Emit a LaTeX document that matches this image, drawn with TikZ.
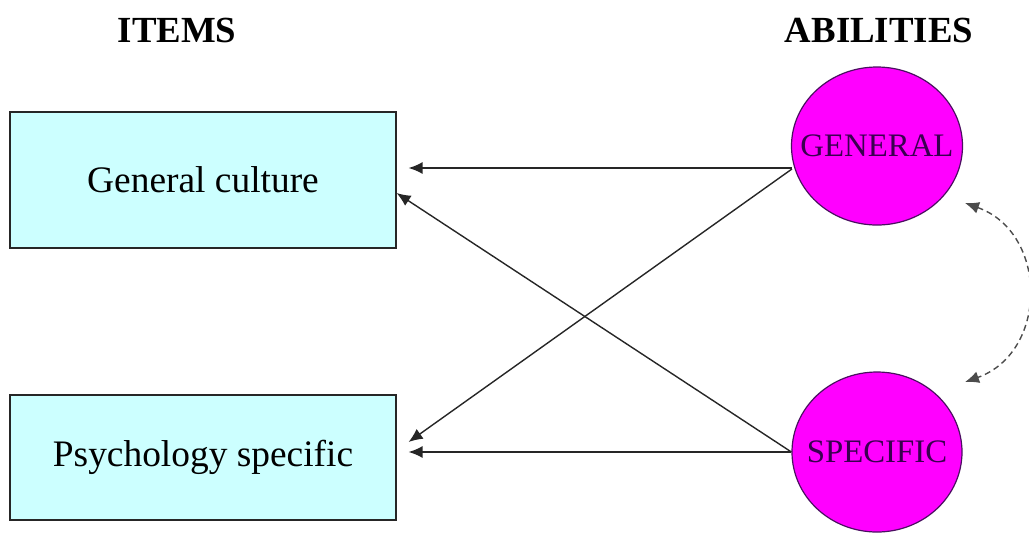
\documentclass[tikz,border=0pt]{standalone}
\usepackage{fontspec}
\setmainfont{Liberation Serif}
\usetikzlibrary{shapes.geometric,arrows.meta,calc}
\definecolor{itemfill}{HTML}{CCFFFF}
\definecolor{abilfill}{HTML}{FF00FF}
\definecolor{abiltext}{HTML}{3A0050}
\definecolor{abilline}{HTML}{4A1060}
\tikzset{
  x=0.5pt, y=-0.5pt,
  title/.style={font=\fontsize{18.4}{22}\selectfont\bfseries, text=black},
  itembox/.style={draw=black!85, line width=0.6pt, fill=itemfill,
    minimum width=193pt, font=\fontsize{18.7}{22}\selectfont, inner sep=0pt},
  ability/.style={ellipse, draw=abilline, line width=0.6pt, fill=abilfill,
    text=abiltext, font=\fontsize{16.4}{20}\selectfont,
    inner xsep=-14pt, inner ysep=-6pt},
  load/.style={line width=0.7pt, black!85, -{Latex[length=7pt,width=6pt]}},
  corr/.style={line width=0.7pt, black!70, dash pattern=on 3pt off 2pt,
    {Latex[length=7pt,width=6pt]}-{Latex[length=7pt,width=6pt]}}
}
\begin{document}
\begin{tikzpicture}
\useasboundingbox (0,0) rectangle (1029,532);

% column headings
\node[title] (hitems) at (177,30) {ITEMS};
\node[title] (habil) at (879,30) {ABILITIES};

% observed items
\node[itembox, minimum height=68pt] (gc) at (203,180) {General culture};
\node[itembox, minimum height=62.5pt] (ps) at (203,457.5) {Psychology specific};

% latent abilities
\node[ability, minimum width=85.5pt, minimum height=79pt] (gen) at (877,146) {GENERAL};
\node[ability, minimum width=85pt, minimum height=80pt] (spe) at (877,452) {SPECIFIC};

% loadings
\draw[load] ($(gen.west)+(1,22)$) -- ($(gc.east)+(12,-12)$);
\draw[load] ($(gen.west)+(1,23)$) -- ($(ps.east)+(12,-15.5)$);
\draw[load] (spe.west) -- ($(gc.east)+(0,13)$);
\draw[load] (spe.west) -- ($(ps.east)+(12,-5.5)$);

% correlation between abilities
\coordinate (ct) at ($(gen.center)+(88,57)$);
\coordinate (cb) at ($(spe.center)+(88,-70)$);
\draw[corr] (ct) .. controls ($(ct)+(83.5,29.7)$) and ($(cb)+(83.5,-29.7)$) .. (cb);
\end{tikzpicture}
\end{document}
